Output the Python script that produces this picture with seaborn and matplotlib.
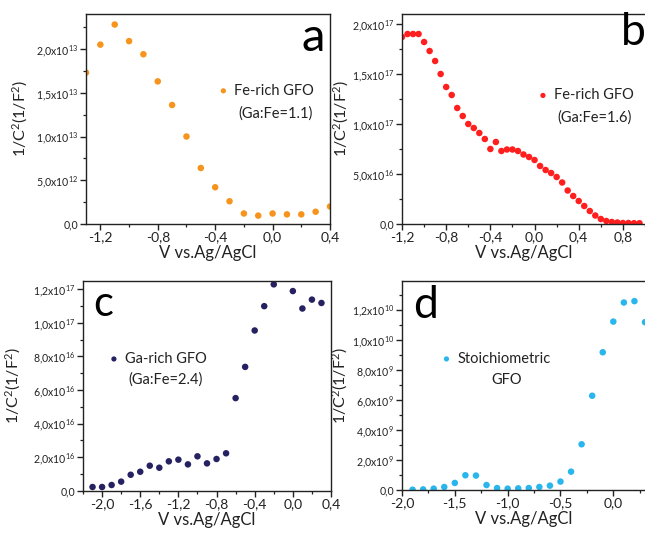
import math
import matplotlib
matplotlib.use("Agg")
import matplotlib.pyplot as plt
import matplotlib.ticker as mticker
import seaborn as sns

# ── data ──────────────────────────────────────────────────────────────────────
v_a = [-1.3, -1.2, -1.1, -1.0, -0.9, -0.8, -0.7, -0.6, -0.5, -0.4, -0.3,
       -0.2, -0.1, 0.0, 0.1, 0.2, 0.3, 0.4]
c_a = [1.73e13, 2.05e13, 2.28e13, 2.09e13, 1.94e13, 1.63e13, 1.36e13, 1.00e13,
       6.4e12, 4.2e12, 2.6e12, 1.2e12, 9.6e11, 1.2e12, 1.1e12, 1.1e12, 1.4e12, 2.0e12]

v_b = [-1.2, -1.15, -1.1, -1.05, -1.0, -0.95, -0.9, -0.85, -0.8, -0.75, -0.7,
       -0.65, -0.6, -0.55, -0.5, -0.45, -0.4, -0.35, -0.3, -0.25, -0.2, -0.15,
       -0.1, -0.05, 0.0, 0.05, 0.1, 0.15, 0.2, 0.25, 0.3, 0.35, 0.4, 0.45, 0.5,
       0.55, 0.6, 0.65, 0.7, 0.75, 0.8, 0.85, 0.9, 0.95]
c_b = [1.87e17, 1.90e17, 1.90e17, 1.90e17, 1.82e17, 1.73e17, 1.63e17, 1.50e17,
       1.37e17, 1.29e17, 1.16e17, 1.08e17, 1.00e17, 9.6e16, 9.1e16, 8.5e16,
       7.5e16, 8.2e16, 7.3e16, 7.45e16, 7.45e16, 7.3e16, 6.95e16, 6.7e16,
       6.4e16, 5.8e16, 5.4e16, 5.1e16, 4.7e16, 4.15e16, 3.35e16, 2.8e16,
       2.3e16, 1.8e16, 1.3e16, 8.5e15, 5.0e15, 3.0e15, 2.0e15, 1.5e15,
       1.0e15, 1.0e15, 8e14, 8e14]

v_c = [-2.1, -2.0, -1.9, -1.8, -1.7, -1.6, -1.5, -1.4, -1.3, -1.2, -1.1, -1.0,
       -0.9, -0.8, -0.7, -0.6, -0.5, -0.4, -0.3, -0.2, 0.0, 0.1, 0.2, 0.3]
c_c = [2.2e15, 2.2e15, 3.4e15, 5.4e15, 9.5e15, 1.13e16, 1.49e16, 1.37e16,
       1.75e16, 1.85e16, 1.57e16, 2.05e16, 1.63e16, 1.89e16, 2.23e16, 5.52e16,
       7.38e16, 9.55e16, 1.10e17, 1.23e17, 1.19e17, 1.086e17, 1.139e17, 1.119e17]

v_d = [-1.9, -1.8, -1.7, -1.6, -1.5, -1.4, -1.3, -1.2, -1.1, -1.0, -0.9, -0.8,
       -0.7, -0.6, -0.5, -0.4, -0.3, -0.2, -0.1, 0.0, 0.1, 0.2, 0.3]
c_d = [2e7, 4e7, 9e7, 2.0e8, 4.7e8, 9.8e8, 9.6e8, 3.3e8, 1.3e8, 9e7, 1.1e8,
       1.3e8, 2.0e8, 2.9e8, 5.6e8, 1.22e9, 3.04e9, 6.27e9, 9.16e9, 1.12e10,
       1.247e10, 1.256e10, 1.116e10]

# ── style ─────────────────────────────────────────────────────────────────────
sns.set_style("ticks")
plt.rcParams["font.family"] = ["Lato", "DejaVu Sans"]
plt.rcParams["mathtext.fontset"] = "custom"
plt.rcParams["mathtext.rm"] = "Lato"
plt.rcParams["mathtext.it"] = "Lato"
plt.rcParams["mathtext.bf"] = "Lato:bold"
plt.rcParams["axes.linewidth"] = 1.0
plt.rcParams["axes.edgecolor"] = "#222222"


def sci_fmt(v, pos):
    if abs(v) < 1e-30:
        return "0,0"
    exp = int(math.floor(math.log10(abs(v)) + 1e-9))
    mant = v / 10 ** exp
    return f"{mant:.1f}".replace(".", ",") + "x10$^{" + str(exp) + "}$"


def dec_fmt(v, pos):
    return f"{v:.1f}".replace(".", ",")


panels = [
    dict(rect=[86/645, 310/534, 244/645, 210/534], x=v_a, y=c_a, color="#F7941D",
         xlim=(-1.3, 0.4), ylim=(0, 2.4e13), xticks=[-1.2, -0.8, -0.4, 0.0, 0.4],
         xminor=0.2, ymaj=5e12, ymin=2.5e12, leg1="Fe-rich GFO", leg2="(Ga:Fe=1.1)",
         legpos=(0.545, 0.635), l2pos=(0.775, 0.526), letter="a", letpos=(0.93, 0.886),
         letsize=34, right=True, ylx=-0.23),
    dict(rect=[402/645, 310/534, 243/645, 210/534], x=v_b, y=c_b, color="#FF1F1F",
         xlim=(-1.2, 1.0), ylim=(0, 2.1e17), xticks=[-1.2, -0.8, -0.4, 0.0, 0.4, 0.8],
         xminor=0.2, ymaj=5e16, ymin=2.5e16, leg1="Fe-rich GFO", leg2="(Ga:Fe=1.6)",
         legpos=(0.562, 0.613), l2pos=(0.794, 0.508), letter="b", letpos=(0.95, 0.91),
         letsize=32, right=False, ylx=-0.21),
    dict(rect=[83/645, 43.3/534, 248/645, 209.7/534], x=v_c, y=c_c, color="#262262",
         xlim=(-2.2, 0.4), ylim=(0, 1.25e17), xticks=[-2.0, -1.6, -1.2, -0.8, -0.4, 0.0, 0.4],
         xminor=0.2, ymaj=2e16, ymin=1e16, leg1="Ga-rich GFO", leg2="(Ga:Fe=2.4)",
         legpos=(0.107, 0.629), l2pos=(0.333, 0.530), letter="c", letpos=(0.082, 0.892),
         letsize=30, right=True, ylx=-0.24),
    dict(rect=[402/645, 44/534, 243/645, 209/534], x=v_d, y=c_d, color="#29B6EC",
         xlim=(-2.0, 0.3), ylim=(0, 1.39e10), xticks=[-2.0, -1.5, -1.0, -0.5, 0.0],
         xminor=0.25, ymaj=2e9, ymin=1e9, leg1="Stoichiometric", leg2="GFO",
         legpos=(0.165, 0.628), l2pos=(0.432, 0.526), letter="d", letpos=(0.095, 0.885),
         letsize=32, right=False, ylx=-0.215),
]

fig = plt.figure(figsize=(6.45, 5.34), dpi=100)

for p in panels:
    ax = fig.add_axes(p["rect"])
    sns.scatterplot(x=p["x"], y=p["y"], ax=ax, color=p["color"], s=22,
                    edgecolor="none", label=p["leg1"])
    ax.set_xlim(*p["xlim"])
    ax.set_ylim(*p["ylim"])

    ax.xaxis.set_major_locator(mticker.FixedLocator(p["xticks"]))
    ax.xaxis.set_minor_locator(mticker.MultipleLocator(p["xminor"]))
    ax.yaxis.set_major_locator(mticker.MultipleLocator(p["ymaj"]))
    ax.yaxis.set_minor_locator(mticker.MultipleLocator(p["ymin"]))
    ax.xaxis.set_major_formatter(mticker.FuncFormatter(dec_fmt))
    ax.yaxis.set_major_formatter(mticker.FuncFormatter(sci_fmt))

    ax.tick_params(axis="x", which="major", direction="out", length=4, width=1,
                   labelsize=10, pad=1.5, colors="#222222")
    ax.tick_params(axis="y", which="major", direction="out", length=4, width=1,
                   labelsize=7.6, pad=1.5, colors="#222222")
    ax.tick_params(which="minor", direction="out", length=2.2, width=0.9, colors="#222222")
    ax.tick_params(top=False, right=False, which="both")
    ax.spines["right"].set_visible(p["right"])
    ax.spines["top"].set_visible(True)

    ax.set_xlabel("V vs.Ag/AgCl", fontsize=12, color="#222222")
    ax.set_ylabel("1/C$^2$(1/F$^2$)", fontsize=11.5, color="#222222")
    ax.xaxis.set_label_coords(0.5, -0.1)
    ax.yaxis.set_label_coords(p["ylx"], 0.5)

    leg = ax.legend(loc="center left", bbox_to_anchor=p["legpos"], frameon=False,
                    fontsize=10.5, handlelength=0.6, handletextpad=0.45,
                    borderpad=0, borderaxespad=0, markerscale=0.8)
    for t in leg.get_texts():
        t.set_color("#222222")
    ax.text(*p["l2pos"], p["leg2"], transform=ax.transAxes, ha="center",
            va="center", fontsize=10.5, color="#222222")
    ax.text(*p["letpos"], p["letter"], transform=ax.transAxes, ha="center",
            va="center", fontsize=p["letsize"], color="black")

fig.savefig("out.png", dpi=100)
